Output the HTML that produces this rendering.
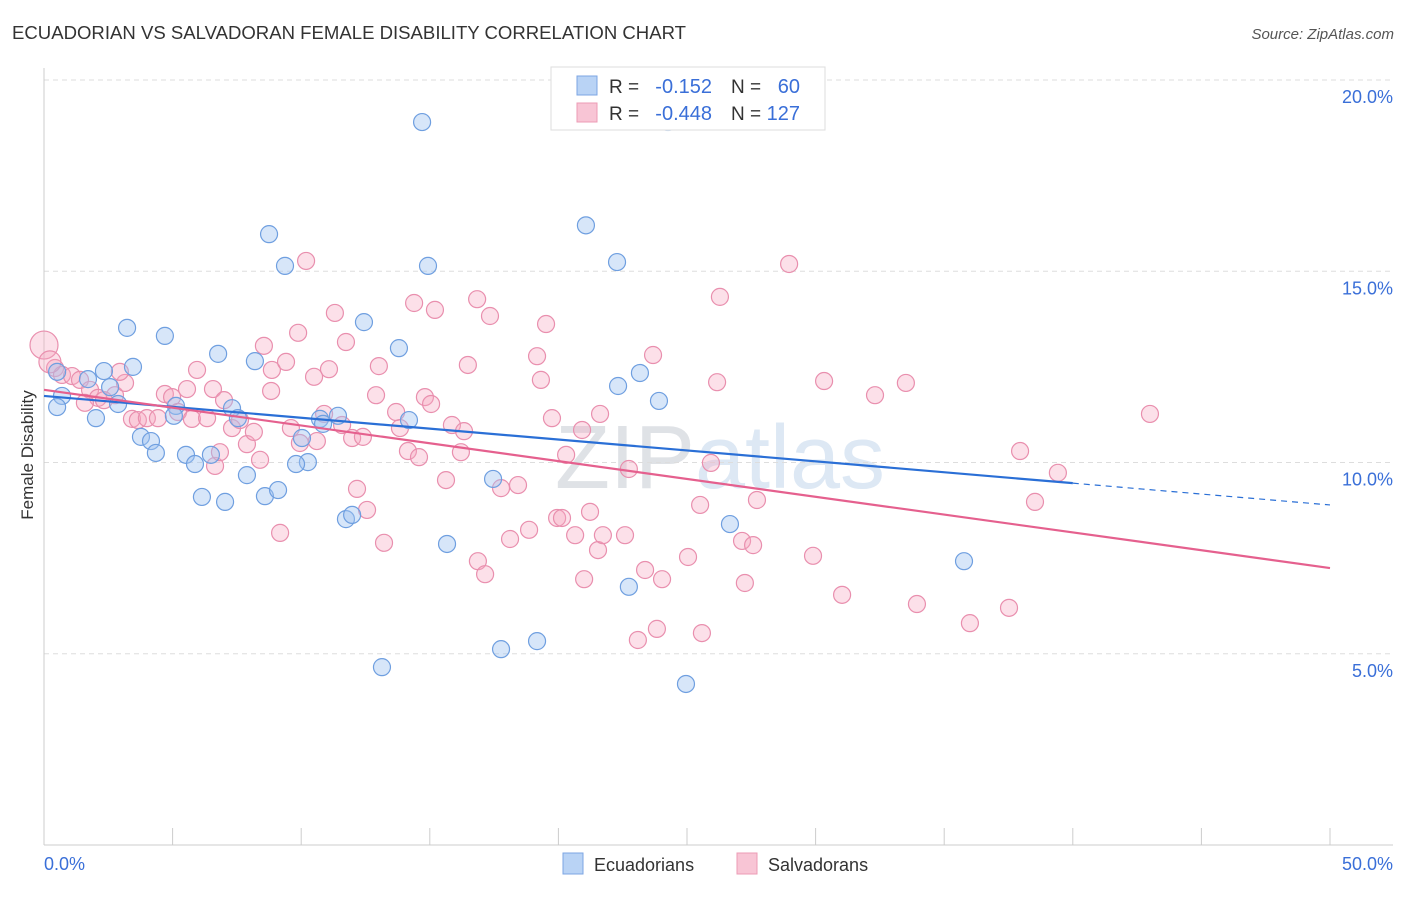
<!DOCTYPE html>
<html><head><meta charset="utf-8"><style>
body{margin:0;background:#fff;font-family:"Liberation Sans",sans-serif;}
svg text{font-family:"Liberation Sans",sans-serif;}
</style></head><body>
<svg id="chart" width="1406" height="892" xmlns="http://www.w3.org/2000/svg">
<text x="12" y="39" font-size="18" fill="#333" textLength="674" lengthAdjust="spacingAndGlyphs">ECUADORIAN VS SALVADORAN FEMALE DISABILITY CORRELATION CHART</text>
<text x="1394" y="39" font-size="15" fill="#555" font-style="italic" text-anchor="end">Source: ZipAtlas.com</text>
<text x="720" y="488" font-size="90" fill="#e6e9ee" text-anchor="middle" font-family="Liberation Serif"><tspan fill="#dfe2e6">ZIP</tspan><tspan font-family="Liberation Sans" fill="#dde8f4">atlas</tspan></text>
<g id="grid"></g><g id="axes"></g><g id="pts"></g><g id="trend"></g>
<text transform="translate(33,455) rotate(-90)" font-size="17" fill="#333" text-anchor="middle">Female Disability</text>
<g>
<rect x="551" y="67" width="274" height="63" fill="#fff" stroke="#ddd"/>
<rect x="577" y="76" width="20" height="19" fill="#b9d3f5" stroke="#7ca6e3"/>
<rect x="577" y="103" width="20" height="19" fill="#f8c5d5" stroke="#ec9bb5"/>
<text x="609" y="93" font-size="19" fill="#333">R =</text>
<text x="712" y="93" font-size="20" fill="#3a6fd8" text-anchor="end">-0.152</text>
<text x="731" y="93" font-size="19" fill="#333">N =</text>
<text x="800" y="93" font-size="20" fill="#3a6fd8" text-anchor="end">60</text>
<text x="609" y="120" font-size="19" fill="#333">R =</text>
<text x="712" y="120" font-size="20" fill="#3a6fd8" text-anchor="end">-0.448</text>
<text x="731" y="120" font-size="19" fill="#333">N =</text>
<text x="800" y="120" font-size="20" fill="#3a6fd8" text-anchor="end">127</text>
</g>
<g>
<rect x="563" y="853" width="20" height="21" fill="#b9d3f5" stroke="#7ca6e3"/>
<text x="594" y="871" font-size="18" fill="#333">Ecuadorians</text>
<rect x="737" y="853" width="20" height="21" fill="#f8c5d5" stroke="#ec9bb5"/>
<text x="768" y="871" font-size="18" fill="#333">Salvadorans</text>
</g>
</svg>
<script>
const yTicks=[5,10,15,20];
const xTickLabels=["0.0%","50.0%"];
const blueX=[14.70,21.07,8.75,22.28,9.37,14.93,3.23,4.70,12.44,13.80,6.77,8.20,3.46,2.33,0.51,1.71,2.57,23.17,22.32,23.91,0.70,2.88,0.51,2.02,5.13,5.05,7.31,7.54,10.73,11.43,14.19,10.85,3.77,4.16,4.35,5.52,6.49,5.87,10.03,10.26,9.80,7.89,17.46,6.14,7.04,8.59,9.10,11.74,11.98,15.67,26.67,35.77,22.74,19.17,17.77,13.14,24.96,24.26];
const blueY=[18.90,16.20,15.97,15.24,15.14,15.14,13.52,13.31,13.67,12.99,12.84,12.65,12.50,12.39,12.37,12.18,11.97,12.34,12.00,11.61,11.74,11.53,11.45,11.16,11.48,11.22,11.42,11.16,11.14,11.22,11.11,11.01,10.67,10.56,10.25,10.20,10.20,9.96,10.64,10.01,9.96,9.67,9.57,9.10,8.97,9.12,9.28,8.52,8.63,7.87,8.39,7.42,6.75,5.33,5.12,4.65,4.21,18.90];
const pinkX=[0,0.43,0.70,1.09,1.40,1.79,2.10,2.76,3.15,2.95,3.42,3.65,4.00,4.43,4.70,4.98,5.21,5.56,5.95,5.75,6.34,6.57,6.65,6.84,7.00,7.31,7.62,7.89,8.16,8.40,8.55,8.86,8.83,9.18,9.41,9.88,9.60,9.95,10.19,10.50,10.61,10.89,11.08,11.31,11.59,11.74,11.98,12.17,12.40,12.56,12.91,13.02,13.22,13.69,13.84,14.15,14.39,14.58,14.81,15.05,15.20,15.63,15.86,16.21,16.33,16.48,16.84,16.87,17.15,17.34,17.77,18.12,18.43,18.86,19.17,19.32,19.52,19.75,19.95,20.14,20.30,20.65,20.92,21.00,21.23,21.54,21.62,21.73,22.59,22.74,23.09,23.37,23.68,23.83,24.03,25.58,25.51,25.04,25.93,26.17,26.28,27.14,27.25,27.57,27.72,28.97,29.90,30.33,31.03,32.31,33.51,33.94,36.00,37.52,37.95,38.53,39.42,43.00,2.33,1.59,0.23];
const pinkY=[13.07,12.47,12.29,12.26,12.16,11.90,11.69,11.76,12.08,12.37,11.14,11.11,11.16,11.16,11.79,11.71,11.32,11.92,12.42,11.14,11.16,11.92,9.91,10.27,11.63,10.90,11.11,10.48,10.80,10.07,13.05,12.42,11.87,8.16,12.63,13.39,10.90,10.51,15.27,12.24,10.56,11.27,12.44,13.91,10.98,13.15,10.64,9.31,10.67,8.76,11.76,12.52,7.90,11.32,10.90,10.30,14.17,10.14,11.71,11.53,13.99,9.54,10.98,10.27,10.82,12.55,14.27,7.42,7.08,13.83,9.33,8.00,9.41,8.24,12.78,12.16,13.62,11.16,8.55,8.55,10.20,8.10,10.85,6.95,8.71,7.71,11.27,8.10,8.10,9.83,5.36,7.19,12.81,5.65,6.95,5.54,8.89,7.53,9.99,12.10,14.33,7.95,6.85,7.84,9.02,15.19,7.56,12.13,6.54,11.76,12.08,6.30,5.80,6.20,10.30,8.97,9.73,11.27,11.63,11.56,12.63];
const blueTrend=[11.74,9.46,8.89]; // at x=0, 40, 50
const pinkTrend=[11.9,7.24]; // at x=0, 50
const NS="http://www.w3.org/2000/svg";
const X0=44,X1=1330,Y0=845,PX=38.25;
const sx=v=>X0+(X1-X0)*v/50, sy=v=>Y0-v*PX;
function mk(t,a,p){const e=document.createElementNS(NS,t);for(const k in a)e.setAttribute(k,a[k]);p.appendChild(e);return e;}
const grid=document.getElementById('grid'),axes=document.getElementById('axes');
yTicks.forEach(v=>{
 const l=mk('line',{x1:X0,x2:1393,y1:sy(v),y2:sy(v),stroke:'#ddd','stroke-dasharray':'5,4'},grid);
 
 
 const t=mk('text',{x:1393,y:sy(v)+23,'font-size':18,fill:'#3a6fd8','text-anchor':'end'},axes);
 t.textContent=v.toFixed(1)+'%';
 
 
});
const ya=mk('line',{x1:X0,x2:X0,y1:68,y2:Y0,stroke:'#ccc'},axes);


const xa=mk('line',{x1:X0,x2:1393,y1:Y0,y2:Y0,stroke:'#ccc'},axes);


for(let i=0;i<=10;i++){const tk=mk('line',{x1:sx(i*5),x2:sx(i*5),y1:828,y2:Y0,stroke:'#ccc'},axes);
 
 }
const xl0=mk('text',{x:44,y:870,'font-size':18,fill:'#3a6fd8'},axes);xl0.textContent=xTickLabels[0];


const xl1=mk('text',{x:1393,y:870,'font-size':18,fill:'#3a6fd8','text-anchor':'end'},axes);xl1.textContent=xTickLabels[1];


const pts=document.getElementById('pts');
pinkX.forEach((x,i)=>{const c=mk('circle',{cx:sx(x),cy:sy(pinkY[i]),r:i===0?14:(i===pinkX.length-1?11:8.5),fill:'rgba(245,165,192,0.35)',stroke:'#e98fae','stroke-width':1.2},pts);
 
 });
blueX.forEach((x,i)=>{const last=i===blueX.length-1;const c=mk('circle',{cx:sx(x),cy:sy(blueY[i]),r:8.5,fill:last?'rgba(160,196,240,0.2)':'rgba(160,196,240,0.42)',stroke:last?'#c8daf2':'#6f9fe0','stroke-width':1.2},pts);
 
 });
const tr=document.getElementById('trend');
const bl=mk('line',{x1:sx(0),y1:sy(blueTrend[0]),x2:sx(40),y2:sy(blueTrend[1]),stroke:'#2a6fd6','stroke-width':2.2},tr);


const bd=mk('line',{x1:sx(40),y1:sy(blueTrend[1]),x2:sx(50),y2:sy(blueTrend[2]),stroke:'#2a6fd6','stroke-width':1.2,'stroke-dasharray':'6,5'},tr);


const pl=mk('line',{x1:sx(0),y1:sy(pinkTrend[0]),x2:sx(50),y2:sy(pinkTrend[1]),stroke:'#e5608e','stroke-width':2.2},tr);


</script>
</body></html>
